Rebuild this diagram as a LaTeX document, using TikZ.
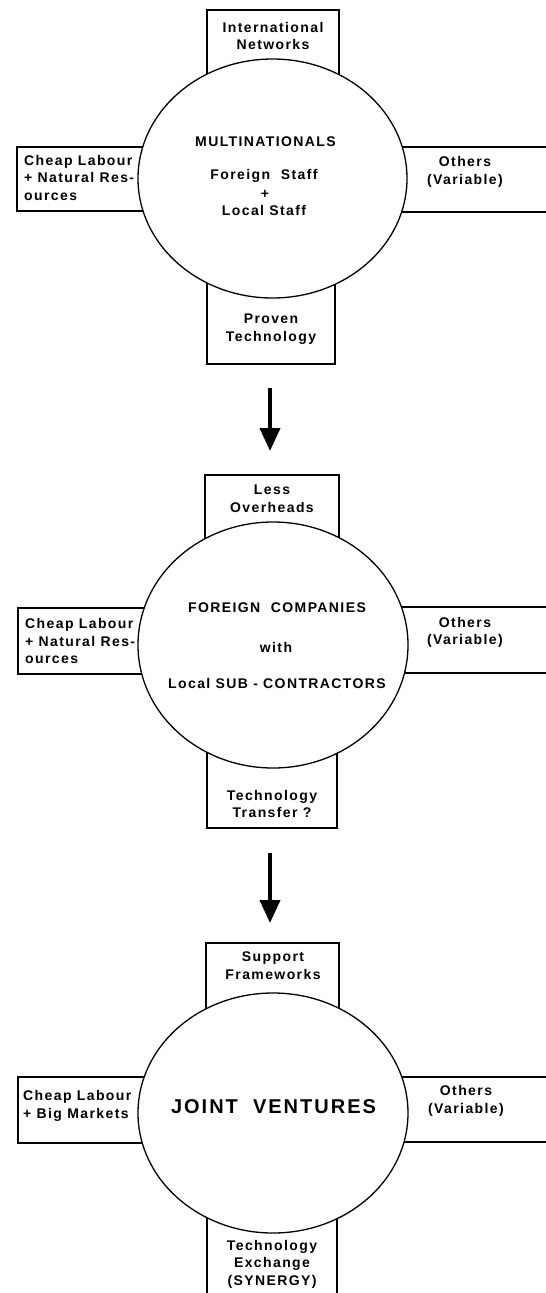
\documentclass[tikz,border=0pt]{standalone}
\usepackage{fontspec}
\newfontfamily\diagfont{Liberation Sans}[LetterSpace=10]
\usetikzlibrary{shapes.geometric,arrows.meta}
\tikzset{
  lw/.style={line width=1.3pt},
  boxline/.style={draw, lw},
  circ/.style={ellipse, draw, lw, fill=white, inner sep=0pt},
  txt/.style={font={\diagfont\bfseries\fontsize{14}{17.5}\selectfont}, align=center, inner sep=0pt},
  txtl/.style={font={\diagfont\bfseries\fontsize{14}{17.5}\selectfont}, align=left, inner sep=0pt, anchor=west},
  bigtxt/.style={font={\diagfont\bfseries\fontsize{20}{24}\selectfont}, inner sep=0pt},
  bigarrow/.style={line width=4pt, -{Triangle[width=20pt,length=23pt]}}
}
\begin{document}
\begin{tikzpicture}[x=1pt,y=-1pt]
\useasboundingbox (0,0) rectangle (546,1293);

% ---------------- Section 1 ----------------
\draw[lw] (207,10) rectangle (339,100);
\draw[lw] (17,147) rectangle (180,211);
\draw[lw] (380,147) -- (546,147);
\draw[lw] (380,212) -- (546,212);
\draw[lw] (207,250) rectangle (335,364);
\node[circ, minimum width=269pt, minimum height=239pt] (e1) at (272.5,178.5) {};

\node[txt] (t1) at (273,36) {International\\Networks};
\node[txtl] (l1) at (24,177.5) {Cheap Labour\\+ Natural Res-\\ources};
\node[txt] (r1) at (465,172) {Others\\(Variable)};
\node[txt] (b1) at (271,329) {Proven\\Technology};
\node[txt] (m1) at (265.5,142) {MULTINATIONALS};
\node[txt] (m1a) at (264,176) {Foreign\ \ Staff};
\node[txt] (m1b) at (265,194) {+};
\node[txt] (m1c) at (264,210) {Local Staff};

% arrow 1
\coordinate (a1s) at (270,388);
\coordinate (a1e) at (270,451);
\draw[bigarrow] (a1s) -- (a1e);

% ---------------- Section 2 ----------------
\draw[lw] (205,475) rectangle (339,570);
\draw[lw] (18,608) rectangle (180,674);
\draw[lw] (380,607) -- (546,607);
\draw[lw] (380,673) -- (546,673);
\draw[lw] (207,720) rectangle (337,828);
\node[circ, minimum width=270pt, minimum height=246pt] (e2) at (273,645) {};

\node[txt] (t2) at (272,498.5) {Less\\Overheads};
\node[txtl] (l2) at (25,641) {Cheap Labour\\+ Natural Res-\\ources};
\node[txt] (r2) at (465,632.5) {Others\\(Variable)};
\node[txt] (b2) at (272,804) {Technology\\Transfer ?};
\node[txt] (m2) at (277,608) {FOREIGN\ \ COMPANIES};
\node[txt] (m2a) at (276,647) {with};
\node[txt] (m2b) at (277,683) {Local SUB - CONTRACTORS};

% arrow 2
\coordinate (a2s) at (270,853);
\coordinate (a2e) at (270,923);
\draw[bigarrow] (a2s) -- (a2e);

% ---------------- Section 3 ----------------
\draw[lw] (206,943) rectangle (339,1040);
\draw[lw] (18,1077) rectangle (180,1143);
\draw[lw] (380,1077) -- (546,1077);
\draw[lw] (380,1142) -- (546,1142);
\draw[lw] (207,1296) -- (207,1200) -- (337,1200) -- (337,1296);
\node[circ, minimum width=270pt, minimum height=240pt] (e3) at (273,1113) {};

\node[txt] (t3) at (273,965.5) {Support\\Frameworks};
\node[txtl] (l3) at (23,1106) {Cheap Labour\\+ Big Markets};
\node[txt] (r3) at (466,1101) {Others\\(Variable)};
\node[txt] (b3) at (272,1264) {Technology\\Exchange\\(SYNERGY)};
\node[bigtxt] (m3) at (273.5,1107) {JOINT\ \ VENTURES};
\end{tikzpicture}
\end{document}
